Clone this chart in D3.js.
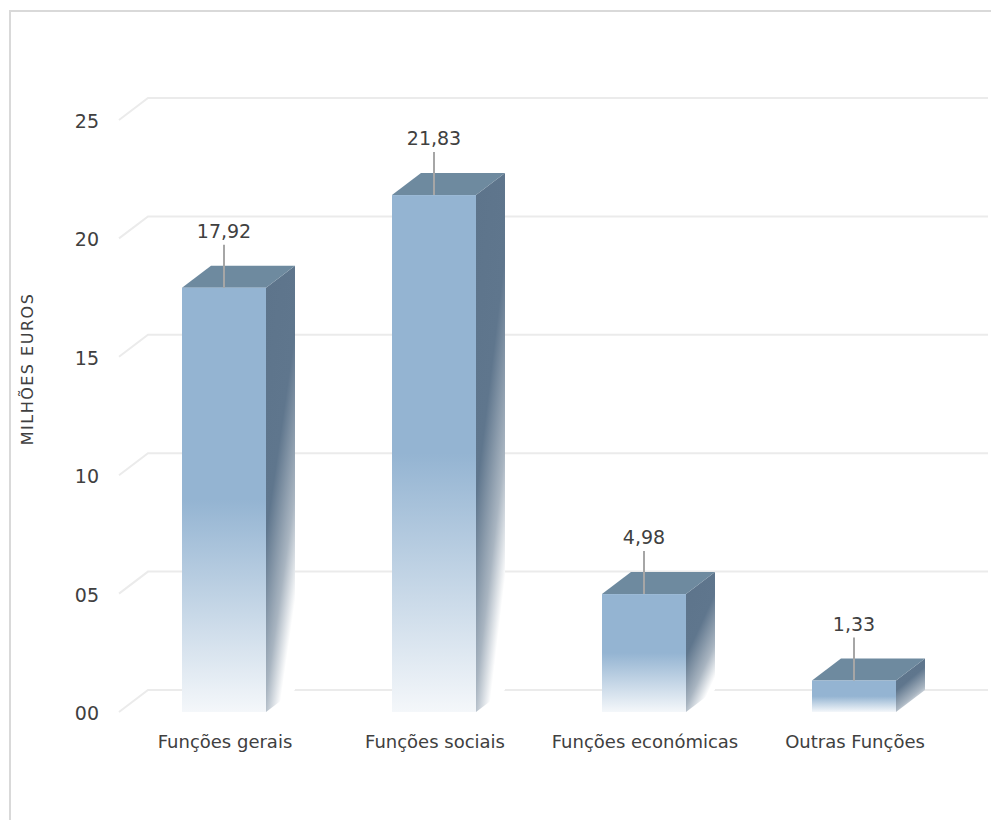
<!DOCTYPE html>
<html>
<head>
<meta charset="utf-8">
<script src="https://cdn.jsdelivr.net/npm/d3@7"></script>
<style>
  html, body { margin: 0; padding: 0; background: #ffffff; }
  svg { display: block; }
  text { font-family: "DejaVu Sans", sans-serif; fill: #404040; }
</style>
</head>
<body>
<div id="chart"></div>
<script>
const categories = ["Funções gerais", "Funções sociais", "Funções económicas", "Outras Funções"];
const values = [17.92, 21.83, 4.98, 1.33];
const valueLabels = ["17,92", "21,83", "4,98", "1,33"];
const yTicks = [0, 5, 10, 15, 20, 25];
const yTickLabels = ["00", "05", "10", "15", "20", "25"];
const yTitle = "MILHÕES EUROS";

const W = 991, H = 820;
const svg = d3.select("#chart").append("svg").attr("width", W).attr("height", H);

// frame
svg.append("rect").attr("x", 10).attr("y", 11).attr("width", 1000).attr("height", 900)
  .attr("fill", "none").attr("stroke", "#d9d9d9").attr("stroke-width", 2);

const x = d3.scaleBand().domain(categories).range([119, 959]).paddingInner(0.6).paddingOuter(0.3);
const y = d3.scaleLinear().domain([0, 25]).range([712, 120]);
const dx = 29, dy = -22;
const gridRight = 988;

const defs = svg.append("defs");
const gFront = defs.append("linearGradient").attr("id", "gFront").attr("x1", 0).attr("y1", 0).attr("x2", 0).attr("y2", 1);
gFront.append("stop").attr("offset", 0).attr("stop-color", "#94b4d2");
gFront.append("stop").attr("offset", 0.5).attr("stop-color", "#94b4d2");
gFront.append("stop").attr("offset", 1).attr("stop-color", "#f4f7fa");
const gSide = defs.append("linearGradient").attr("id", "gSide").attr("x1", 0).attr("y1", 0).attr("x2", 0.45).attr("y2", 1);
gSide.append("stop").attr("offset", 0).attr("stop-color", "#5d748b");
gSide.append("stop").attr("offset", 0.5).attr("stop-color", "#5f768d");
gSide.append("stop").attr("offset", 0.8).attr("stop-color", "#a9b5c1");
gSide.append("stop").attr("offset", 1).attr("stop-color", "#ffffff");

// gridlines (3D back wall + floor edge)
const grid = svg.append("g");
yTicks.forEach(t => {
  const yf = y(t);
  grid.append("path")
    .attr("d", `M${x.range()[0]},${yf} L${x.range()[0] + dx},${yf + dy} L${gridRight},${yf + dy}`)
    .attr("fill", "none").attr("stroke", "#ebebeb").attr("stroke-width", 2);
});

// y tick labels
svg.append("g").selectAll("text").data(yTicks).join("text")
  .attr("x", 99).attr("y", d => y(d) + 8)
  .attr("text-anchor", "end").attr("font-size", 19)
  .text((d, i) => yTickLabels[i]);

// axis title
svg.append("text")
  .attr("transform", "translate(33,369) rotate(-90)")
  .attr("text-anchor", "middle").attr("font-size", 16).attr("letter-spacing", 1.5)
  .text(yTitle);

// bars
const bars = svg.append("g").selectAll("g").data(categories).join("g");
bars.each(function (c, i) {
  const g = d3.select(this);
  const x0 = x(c), x1 = x(c) + x.bandwidth();
  const yt = y(values[i]), yb = y(0);
  g.append("path")
    .attr("d", `M${x1},${yt} L${x1 + dx},${yt + dy} L${x1 + dx},${yb + dy} L${x1},${yb} Z`)
    .attr("fill", "url(#gSide)");
  g.append("path")
    .attr("d", `M${x0},${yt} L${x0 + dx},${yt + dy} L${x1 + dx},${yt + dy} L${x1},${yt} Z`)
    .attr("fill", "#6e8a9f");
  g.append("rect")
    .attr("x", x0).attr("y", yt).attr("width", x.bandwidth()).attr("height", yb - yt)
    .attr("fill", "url(#gFront)");
  const cx = x0 + x.bandwidth() / 2;
  g.append("line")
    .attr("x1", cx).attr("x2", cx).attr("y1", yt).attr("y2", yt - 43)
    .attr("stroke", "#a6a6a6").attr("stroke-width", 2);
  g.append("text")
    .attr("x", cx).attr("y", yt - 50)
    .attr("text-anchor", "middle").attr("font-size", 19)
    .text(valueLabels[i]);
});

// category labels
svg.append("g").selectAll("text").data(categories).join("text")
  .attr("x", d => x(d) + x.bandwidth() / 2 + 1)
  .attr("y", 748)
  .attr("text-anchor", "middle").attr("font-size", 18)
  .text(d => d);
</script>
</body>
</html>
